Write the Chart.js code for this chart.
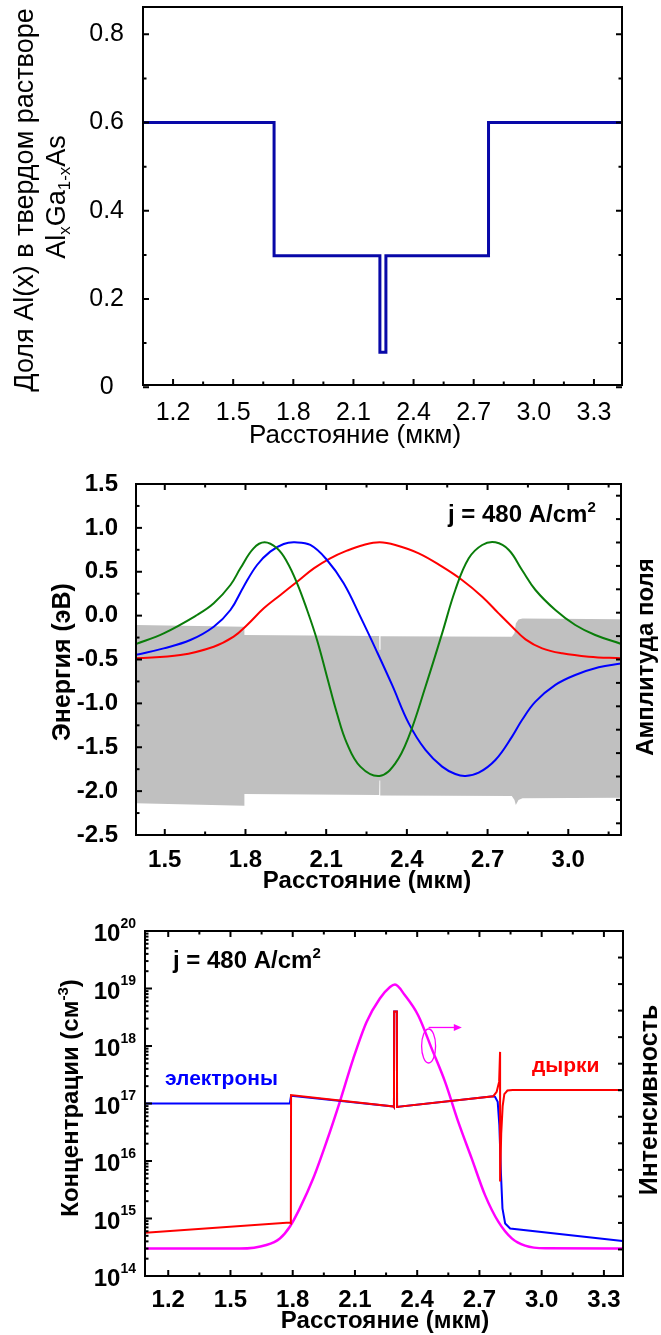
<!DOCTYPE html>
<html>
<head>
<meta charset="utf-8">
<script src="https://cdn.jsdelivr.net/npm/chart.js@4.4.0/dist/chart.umd.min.js"></script>
<style>
  html, body { margin: 0; padding: 0; background: #fff; }
  #wrap { position: relative; width: 661px; height: 1335px; }
  .panel { position: absolute; left: 0; width: 661px; }
</style>
</head>
<body>
<div id="wrap">
  <div class="panel" style="top:0;height:455px"><canvas id="c1"></canvas></div>
  <div class="panel" style="top:455px;height:440px"><canvas id="c2"></canvas></div>
  <div class="panel" style="top:895px;height:440px"><canvas id="c3"></canvas></div>
</div>
<script>
// ---- panel 1: Al fraction in AlxGa1-xAs ----
const alX = [1.05, 1.704, 1.704, 2.232, 2.232, 2.262, 2.262, 2.774, 2.774, 3.44];
const alY = [0.6, 0.6, 0.298, 0.298, 0.079, 0.079, 0.298, 0.298, 0.6, 0.6];
const x1Major = [1.2, 1.5, 1.8, 2.1, 2.4, 2.7, 3.0, 3.3];
const x1Minor = [1.35, 1.65, 1.95, 2.25, 2.55, 2.85, 3.15];
const y1Major = [0, 0.2, 0.4, 0.6, 0.8];
const y1Minor = [0.1, 0.3, 0.5, 0.7];

// ---- panel 2: band edges (grey) and mode field amplitudes ----
const bandX     = [1.39, 1.796, 1.796, 2.297, 2.298, 2.301, 2.302, 2.79, 2.8, 2.805, 2.815, 2.83, 3.2];
const bandUpper = [-0.107, -0.126, -0.221, -0.232, -0.39, -0.39, -0.235, -0.24, -0.2, -0.09, -0.045, -0.032, -0.042];
const bandLower = [-2.139, -2.166, -2.033, -2.044, -1.88, -1.88, -2.05, -2.056, -2.1, -2.158, -2.1, -2.082, -2.075];

const mode0X = [1.39, 1.558, 1.682, 1.756, 1.806, 1.868, 1.93, 1.992, 2.054, 2.115, 2.177, 2.239, 2.299, 2.357, 2.444, 2.531, 2.605, 2.68, 2.741, 2.791, 2.841, 2.903, 2.977, 3.076, 3.197];
const mode0Y = [-0.487, -0.449, -0.354, -0.24, -0.107, 0.083, 0.235, 0.387, 0.539, 0.653, 0.74, 0.805, 0.835, 0.805, 0.71, 0.558, 0.406, 0.216, 0.026, -0.126, -0.27, -0.373, -0.43, -0.468, -0.487];

const mode1X = [1.39, 1.496, 1.595, 1.682, 1.744, 1.793, 1.843, 1.892, 1.942, 1.983, 2.041, 2.103, 2.165, 2.227, 2.29, 2.345, 2.407, 2.469, 2.531, 2.58, 2.618, 2.667, 2.729, 2.791, 2.828, 2.878, 2.952, 3.026, 3.113, 3.197];
const mode1Y = [-0.449, -0.373, -0.278, -0.126, 0.064, 0.33, 0.577, 0.729, 0.816, 0.835, 0.805, 0.634, 0.368, -0.012, -0.42, -0.79, -1.228, -1.531, -1.721, -1.805, -1.828, -1.79, -1.645, -1.379, -1.19, -0.98, -0.79, -0.677, -0.589, -0.544];

const mode2X = [1.39, 1.496, 1.62, 1.682, 1.744, 1.781, 1.83, 1.871, 1.917, 1.954, 1.992, 2.029, 2.066, 2.103, 2.14, 2.177, 2.227, 2.298, 2.357, 2.407, 2.469, 2.531, 2.58, 2.63, 2.68, 2.729, 2.779, 2.828, 2.878, 2.952, 3.026, 3.1, 3.197];
const mode2Y = [-0.327, -0.202, 0.007, 0.14, 0.349, 0.539, 0.767, 0.835, 0.767, 0.615, 0.368, 0.064, -0.278, -0.696, -1.113, -1.455, -1.721, -1.828, -1.683, -1.379, -0.81, -0.202, 0.292, 0.653, 0.805, 0.835, 0.748, 0.52, 0.292, 0.064, -0.107, -0.221, -0.323];

const x2Major = [1.5, 1.8, 2.1, 2.4, 2.7, 3.0];
const x2Minor = [1.65, 1.95, 2.25, 2.55, 2.85, 3.15];
const y2Major = [-2.5, -2.0, -1.5, -1.0, -0.5, 0.0, 0.5, 1.0, 1.5];
const y2Minor = [-2.25, -1.75, -1.25, -0.75, -0.25, 0.25, 0.75, 1.25];
const r2Ticks = [0, 1, 2, 3, 4, 5, 6, 7, 8, 9, 10, 11, 12, 13, 14];

// ---- panel 3: carrier concentrations and mode intensity ----
const elecX = [1.09, 1.786, 1.792, 2.286, 2.288, 2.289, 2.302, 2.303, 2.306, 2.767, 2.775, 2.788, 2.796, 2.804, 2.811, 2.824, 2.848, 3.39];
const elecY = [1.0e17, 1.0e17, 1.36e17, 8.9e16, 8.7e16, 4.0e18, 4.0e18, 8.7e16, 8.75e16, 1.34e17, 1.31e17, 1.07e17, 4.2e16, 5.7e15, 1.5e15, 8.2e14, 6.7e14, 4.06e14];

const holeX = [1.09, 1.786, 1.791, 1.792, 2.286, 2.288, 2.289, 2.302, 2.303, 2.306, 2.767, 2.783, 2.795, 2.7994, 2.7996, 2.805, 2.812, 2.82, 2.835, 2.86, 3.39];
const holeY = [5.66e14, 8.5e14, 8.3e14, 1.4e17, 8.9e16, 8.7e16, 4.0e18, 4.0e18, 8.7e16, 8.75e16, 1.34e17, 1.6e17, 2.4e17, 7.9e17, 4.4e15, 3.0e16, 9.0e16, 1.45e17, 1.68e17, 1.72e17, 1.72e17];

const intX = [1.09, 1.545, 1.673, 1.738, 1.786, 1.834, 1.899, 1.963, 2.027, 2.092, 2.156, 2.22, 2.269, 2.293, 2.341, 2.405, 2.47, 2.534, 2.598, 2.663, 2.727, 2.791, 2.856, 2.92, 3.017, 3.39];
const intY = [3.0e14, 3.0e14, 3.46e14, 4.5e14, 7.2e14, 1.5e15, 5.0e15, 2.16e16, 1.07e17, 6.05e17, 2.62e18, 6.7e18, 1.06e19, 1.17e19, 7.6e18, 3.4e18, 9.0e17, 2.4e17, 4.8e16, 1.1e16, 2.55e15, 8.8e14, 4.5e14, 3.37e14, 3.03e14, 3.0e14];

const x3Major = [1.2, 1.5, 1.8, 2.1, 2.4, 2.7, 3.0, 3.3];
const x3Minor = [1.35, 1.65, 1.95, 2.25, 2.55, 2.85, 3.15];
const y3Decades = [1e14, 1e15, 1e16, 1e17, 1e18, 1e19, 1e20];
const y3Minor = [];
for (let d = 14; d < 20; d++) {
    for (let m = 2; m <= 9; m++) y3Minor.push(m * Math.pow(10, d));
}
const r3Ticks = [0, 1, 2, 3, 4, 5, 6, 7, 8, 9, 10, 11];

// annotation anchor (ellipse around the intensity curve, arrow to the right axis)
const loopX = 2.455, loopY = 1.0e18, arrowY = 2.1e18, arrowEndX = 2.615;

const FAM = "'Liberation Sans', Arial, sans-serif";

Chart.defaults.color = '#000';
Chart.defaults.animation = false;

function pts(xs, ys) {
    return xs.map((x, i) => ({ x: x, y: ys[i] }));
}
function setTicks(list) {
    return function (scale) { scale.ticks = list.map(v => ({ value: v })); };
}
// fixed axis size, and no extra room for overhanging end labels
function fitTo(prop, size) {
    return function (scale) {
        scale[prop] = size;
        scale.paddingTop = scale.paddingBottom = scale.paddingLeft = scale.paddingRight = 0;
    };
}

// frame box + inward tick marks on any side
const framePlugin = {
    id: 'frame',
    afterDraw(chart, args, opts) {
        const ctx = chart.ctx;
        const a = chart.chartArea;
        ctx.save();
        ctx.strokeStyle = '#000';
        ctx.lineWidth = 2;
        (opts.marks || []).forEach(m => {
            const s = chart.scales[m.scale];
            [[m.major, m.majorLen || 6], [m.minor, m.minorLen || 3.5]].forEach(([vals, len]) => {
                (vals || []).forEach(v => {
                    const p = s.getPixelForValue(v);
                    ctx.beginPath();
                    m.edges.forEach(e => {
                        if (e === 'bottom') { ctx.moveTo(p, a.bottom); ctx.lineTo(p, a.bottom - len); }
                        if (e === 'top') { ctx.moveTo(p, a.top); ctx.lineTo(p, a.top + len); }
                        if (e === 'left') { ctx.moveTo(a.left, p); ctx.lineTo(a.left + len, p); }
                        if (e === 'right') { ctx.moveTo(a.right, p); ctx.lineTo(a.right - len, p); }
                    });
                    ctx.stroke();
                });
            });
        });
        ctx.strokeRect(a.left, a.top, a.right - a.left, a.bottom - a.top);
        ctx.restore();
        if (opts.draw) opts.draw(chart, ctx);
    }
};

// text made of pieces (sub/superscripts), optional rotation
function rich(ctx, parts, x, y, rot, align) {
    ctx.save();
    ctx.translate(x, y);
    ctx.rotate(rot || 0);
    ctx.textBaseline = 'alphabetic';
    ctx.textAlign = 'left';
    let w = 0;
    parts.forEach(p => { ctx.font = p.f; w += ctx.measureText(p.t).width; });
    let cx = align === 'center' ? -w / 2 : (align === 'right' ? -w : 0);
    parts.forEach(p => {
        ctx.font = p.f;
        ctx.fillStyle = p.c || '#000';
        ctx.fillText(p.t, cx, p.dy || 0);
        cx += ctx.measureText(p.t).width;
    });
    ctx.restore();
}

const UP = -Math.PI / 2;
const reg = s => s + 'px ' + FAM;
const bold = s => 'bold ' + s + 'px ' + FAM;

// Panel 1
new Chart(document.getElementById('c1'), {
    type: 'line',
    data: {
        datasets: [{
            data: pts(alX, alY),
            borderColor: '#0808a8',
            borderWidth: 3,
            pointRadius: 0,
            tension: 0
        }]
    },
    options: {
        responsive: true,
        maintainAspectRatio: false,
        layout: { padding: { left: 0, top: 7, right: 39, bottom: 0 } },
        plugins: {
            legend: { display: false },
            tooltip: { enabled: false },
            frame: {
                marks: [
                    { scale: 'x', edges: ['bottom'], major: x1Major, minor: x1Minor },
                    { scale: 'y', edges: ['left', 'right'], major: y1Major, minor: y1Minor }
                ],
                draw(chart, ctx) {
                    rich(ctx, [{ t: 'Расстояние (мкм)', f: reg(26) }], 355, 443, 0, 'center');
                    rich(ctx, [{ t: 'Доля Al(x) в твердом растворе', f: reg(27) }], 33, 200, UP, 'center');
                    rich(ctx, [
                        { t: 'Al', f: reg(27) }, { t: 'x', f: reg(17), dy: 5 },
                        { t: 'Ga', f: reg(27) }, { t: '1-x', f: reg(17), dy: 5 },
                        { t: 'As', f: reg(27) }
                    ], 65, 197, UP, 'center');
                }
            }
        },
        scales: {
            x: {
                type: 'linear', min: 1.05, max: 3.44,
                afterBuildTicks: setTicks(x1Major),
                afterFit: fitTo('height', 70),
                grid: { display: false }, border: { display: false },
                ticks: { autoSkip: false, maxRotation: 0, padding: 8, font: { family: FAM, size: 25, lineHeight: 1 },
                    callback: v => v.toFixed(1) }
            },
            y: {
                type: 'linear', min: 0.005, max: 0.862,
                afterBuildTicks: setTicks(y1Major),
                afterFit: fitTo('width', 143),
                grid: { display: false }, border: { display: false },
                ticks: { crossAlign: 'center', padding: 11, font: { family: FAM, size: 25, lineHeight: 1 },
                    callback: v => v === 0 ? '0' : v.toFixed(1) }
            }
        }
    },
    plugins: [framePlugin]
});

// Panel 2
const line = (xs, ys, color, order) => ({
    data: pts(xs, ys), borderColor: color, borderWidth: 2, pointRadius: 0,
    tension: 0.4, fill: false, order: order
});
new Chart(document.getElementById('c2'), {
    type: 'line',
    data: {
        datasets: [
            { data: pts(bandX, bandUpper), borderWidth: 0, borderColor: 'rgba(0,0,0,0)', pointRadius: 0,
              backgroundColor: '#c0c0c0', fill: '+1', order: 10 },
            { data: pts(bandX, bandLower), borderWidth: 0, borderColor: 'rgba(0,0,0,0)', pointRadius: 0,
              fill: false, order: 11 },
            line(mode0X, mode0Y, '#ff0000', 3),
            line(mode1X, mode1Y, '#0000ff', 2),
            line(mode2X, mode2Y, '#0a7d0a', 1)
        ]
    },
    options: {
        responsive: true,
        maintainAspectRatio: false,
        layout: { padding: { left: 0, top: 29, right: 40, bottom: 0 } },
        plugins: {
            legend: { display: false },
            tooltip: { enabled: false },
            frame: {
                marks: [
                    { scale: 'x', edges: ['bottom', 'top'], major: x2Major, minor: x2Minor },
                    { scale: 'y', edges: ['left'], major: y2Major, minor: y2Minor },
                    { scale: 'yR', edges: ['right'], major: r2Ticks, majorLen: 5 }
                ],
                draw(chart, ctx) {
                    rich(ctx, [{ t: 'Расстояние (мкм)', f: bold(24) }], 367, 433, 0, 'center');
                    rich(ctx, [{ t: 'Энергия (эВ)', f: bold(25) }], 70, 207, UP, 'center');
                    rich(ctx, [{ t: 'Амплитуда поля', f: bold(24) }], 653, 202, UP, 'center');
                    rich(ctx, [{ t: 'j = 480 A/cm', f: bold(24) }, { t: '2', f: bold(15), dy: -10 }], 448, 67, 0, 'left');
                }
            }
        },
        scales: {
            x: {
                type: 'linear', min: 1.393, max: 3.196,
                afterBuildTicks: setTicks(x2Major),
                afterFit: fitTo('height', 60),
                grid: { display: false }, border: { display: false },
                ticks: { autoSkip: false, maxRotation: 0, padding: 5.5, font: { family: FAM, size: 24, weight: 'bold', lineHeight: 1 },
                    callback: v => v.toFixed(1) }
            },
            y: {
                type: 'linear', min: -2.5, max: 1.5,
                afterBuildTicks: setTicks(y2Major),
                afterFit: fitTo('width', 136),
                grid: { display: false }, border: { display: false },
                ticks: { padding: 10, font: { family: FAM, size: 24, weight: 'bold', lineHeight: 1 },
                    callback: v => v.toFixed(1) }
            },
            yR: { type: 'linear', display: false, position: 'right', min: -0.5, max: 14.5 }
        }
    },
    plugins: [framePlugin]
});

// Panel 3
new Chart(document.getElementById('c3'), {
    type: 'line',
    data: {
        datasets: [
            { data: pts(holeX, holeY), borderColor: '#ff0000', borderWidth: 2, pointRadius: 0, tension: 0, order: 1 },
            { data: pts(elecX, elecY), borderColor: '#0000ff', borderWidth: 2, pointRadius: 0, tension: 0, order: 2 },
            { data: pts(intX, intY), borderColor: '#ff00ff', borderWidth: 2.5, pointRadius: 0,
              cubicInterpolationMode: 'monotone', order: 3 }
        ]
    },
    options: {
        responsive: true,
        maintainAspectRatio: false,
        layout: { padding: { left: 0, top: 36, right: 38, bottom: 0 } },
        plugins: {
            legend: { display: false },
            tooltip: { enabled: false },
            frame: {
                marks: [
                    { scale: 'x', edges: ['bottom', 'top'], major: x3Major, minor: x3Minor },
                    { scale: 'y', edges: ['left'], major: y3Decades, minor: y3Minor, majorLen: 7, minorLen: 3.5 },
                    { scale: 'yR', edges: ['right'], major: r3Ticks, majorLen: 5 }
                ],
                draw(chart, ctx) {
                    const xs = chart.scales.x, ys = chart.scales.y;
                    // log tick labels 10^n
                    y3Decades.forEach(v => {
                        const p = ys.getPixelForValue(v);
                        const e = String(Math.round(Math.log10(v)));
                        ctx.font = bold(14);
                        const ew = ctx.measureText(e).width;
                        rich(ctx, [{ t: '10', f: bold(24) }], 136 - ew, p + 10, 0, 'right');
                        rich(ctx, [{ t: e, f: bold(14) }], 136 - ew, p - 3.5, 0, 'left');
                    });
                    rich(ctx, [{ t: 'Расстояние (мкм)', f: bold(24) }], 385, 433, 0, 'center');
                    rich(ctx, [{ t: 'Концентрации (см', f: bold(24) }, { t: '-3', f: bold(15), dy: -10 },
                               { t: ')', f: bold(24) }], 78, 203, UP, 'center');
                    rich(ctx, [{ t: 'Интенсивность', f: bold(25) }], 657, 205, UP, 'center');
                    rich(ctx, [{ t: 'j = 480 A/cm', f: bold(24) }, { t: '2', f: bold(15), dy: -10 }], 173, 73, 0, 'left');
                    rich(ctx, [{ t: 'электроны', f: bold(21), c: '#0000ff' }], 165, 190, 0, 'left');
                    rich(ctx, [{ t: 'дырки', f: bold(21), c: '#ff0000' }], 532, 177, 0, 'left');
                    // loop + arrow pointing to the right axis
                    const cx = xs.getPixelForValue(loopX), cy = ys.getPixelForValue(loopY);
                    const ay = ys.getPixelForValue(arrowY), ax = xs.getPixelForValue(arrowEndX);
                    ctx.save();
                    ctx.strokeStyle = '#ff00ff';
                    ctx.fillStyle = '#ff00ff';
                    ctx.lineWidth = 1.3;
                    ctx.beginPath();
                    ctx.ellipse(cx, cy, 7, 17, 0, 0, Math.PI * 2);
                    ctx.stroke();
                    ctx.beginPath();
                    ctx.moveTo(cx, ay);
                    ctx.lineTo(ax - 7, ay);
                    ctx.stroke();
                    ctx.beginPath();
                    ctx.moveTo(ax, ay);
                    ctx.lineTo(ax - 8, ay - 3.5);
                    ctx.lineTo(ax - 8, ay + 3.5);
                    ctx.closePath();
                    ctx.fill();
                    ctx.restore();
                }
            }
        },
        scales: {
            x: {
                type: 'linear', min: 1.088, max: 3.392,
                afterBuildTicks: setTicks(x3Major),
                afterFit: fitTo('height', 59),
                grid: { display: false }, border: { display: false },
                ticks: { autoSkip: false, maxRotation: 0, padding: 4.5, font: { family: FAM, size: 24, weight: 'bold', lineHeight: 1 },
                    callback: v => v.toFixed(1) }
            },
            y: {
                type: 'logarithmic', min: 1e14, max: 1e20,
                afterBuildTicks: setTicks(y3Decades),
                afterFit: fitTo('width', 145),
                grid: { display: false }, border: { display: false },
                ticks: { display: false }
            },
            yR: { type: 'linear', display: false, position: 'right', min: -1, max: 12 }
        }
    },
    plugins: [framePlugin]
});
</script>
</body>
</html>
